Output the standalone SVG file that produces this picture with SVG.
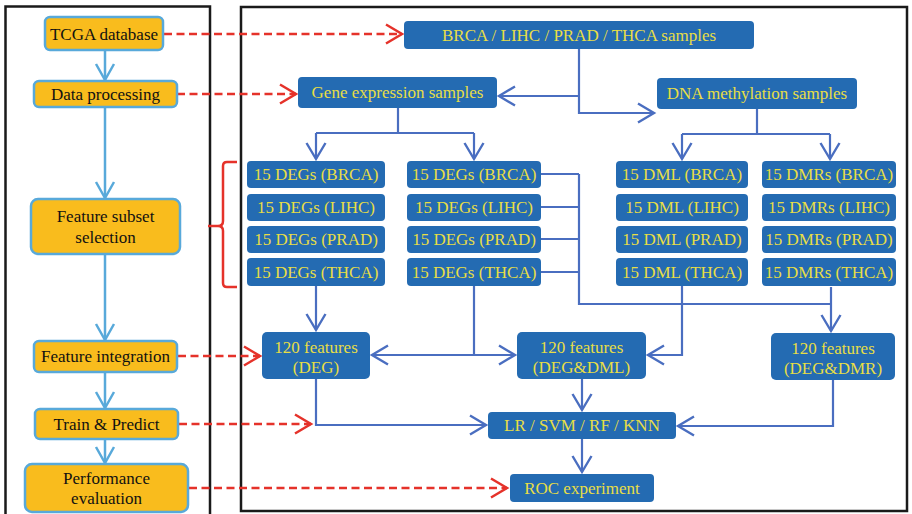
<svg xmlns="http://www.w3.org/2000/svg" width="912" height="514" viewBox="0 0 912 514">
  <style>
    .panel { fill: none; stroke: #1a1a1a; stroke-width: 2.5; }
    .step rect { fill: #F9BC1D; stroke: #58A9DA; stroke-width: 2.5; }
    .step text { font-family: "Liberation Serif", "Times New Roman", serif; font-size: 17px; fill: #111; text-anchor: middle; }
    .box rect { fill: #246BB2; }
    .box text { font-family: "Liberation Serif", "Times New Roman", serif; font-size: 17px; fill: #E8DE45; text-anchor: middle; }
    .flow { fill: none; stroke: #4A6EC0; stroke-width: 2.2; }
    .side { fill: none; stroke: #58A9DA; stroke-width: 2.5; }
    .link { fill: none; stroke: #E5322A; stroke-width: 2.5; stroke-dasharray: 8 4.5; }
    .brace { fill: none; stroke: #E5322A; stroke-width: 2.5; }
  </style>
  <defs>
    <marker id="hFlow" markerUnits="userSpaceOnUse" orient="auto" refX="0" refY="0" overflow="visible">
      <path d="M-16,-9.5 L0,0 L-16,9.5" fill="none" stroke="#4A6EC0" stroke-width="2.4"/>
    </marker>
    <marker id="hSide" markerUnits="userSpaceOnUse" orient="auto" refX="0" refY="0" overflow="visible">
      <path d="M-16,-9 L0,0 L-16,9" fill="none" stroke="#58A9DA" stroke-width="2.5"/>
    </marker>
    <marker id="hLink" markerUnits="userSpaceOnUse" orient="auto" refX="0" refY="0" overflow="visible">
      <path d="M-16,-9.5 L0,0 L-16,9.5" fill="none" stroke="#E5322A" stroke-width="2.5"/>
    </marker>
  </defs>

  <rect width="912" height="514" fill="#ffffff"/>

  <!-- panel frames -->
  <rect class="panel" x="5.5" y="6.5" width="204.5" height="530"/>
  <rect class="panel" x="241" y="7" width="666" height="504"/>

  <!-- connectors -->
  <g id="connectors">
    <!-- left workflow -->
    <path class="side" d="M105,50 V80" marker-end="url(#hSide)"/>
    <path class="side" d="M105,107 V198" marker-end="url(#hSide)"/>
    <path class="side" d="M105,254 V340" marker-end="url(#hSide)"/>
    <path class="side" d="M105,372 V408" marker-end="url(#hSide)"/>
    <path class="side" d="M105,439 V463" marker-end="url(#hSide)"/>

    <!-- dashed step links -->
    <path class="link" d="M164,34 H402" marker-end="url(#hLink)"/>
    <path class="link" d="M177,94 H296" marker-end="url(#hLink)"/>
    <path class="link" d="M178,356 H260" marker-end="url(#hLink)"/>
    <path class="link" d="M179,424 H311" marker-end="url(#hLink)"/>
    <path class="link" d="M189,488 H507" marker-end="url(#hLink)"/>

    <!-- brace -->
    <path class="brace" d="M237,162 H227 Q223,162 223,166 V221 Q223,226 218,226 H208 M218,226 Q223,226 223,231 V283 Q223,287 227,287 H237"/>

    <!-- samples split -->
    <path class="flow" d="M579,49 V113 H654" marker-end="url(#hFlow)"/>
    <path class="flow" d="M579,96 H499" marker-end="url(#hFlow)"/>

    <!-- gene expression to DEG columns -->
    <path class="flow" d="M398,108 V133"/>
    <path class="flow" d="M316,133 H474"/>
    <path class="flow" d="M316,133 V159" marker-end="url(#hFlow)"/>
    <path class="flow" d="M474,133 V159" marker-end="url(#hFlow)"/>

    <!-- methylation to DML / DMR columns -->
    <path class="flow" d="M757,109 V134"/>
    <path class="flow" d="M682,134 H830"/>
    <path class="flow" d="M682,134 V159" marker-end="url(#hFlow)"/>
    <path class="flow" d="M830,134 V159" marker-end="url(#hFlow)"/>

    <!-- DEG column 1 to DEG features -->
    <path class="flow" d="M316,286 V330" marker-end="url(#hFlow)"/>

    <!-- DEG column 2 to DEG and DEG&DML features -->
    <path class="flow" d="M474,286 V355"/>
    <path class="flow" d="M474,355 H372" marker-end="url(#hFlow)"/>
    <path class="flow" d="M474,355 H515" marker-end="url(#hFlow)"/>

    <!-- DEG column 2 bus to DEG&DMR -->
    <path class="flow" d="M541,174 H579 M541,207 H579 M541,239 H579 M541,272 H579"/>
    <path class="flow" d="M579,174 V304 H831"/>
    <path class="flow" d="M831,287 V331" marker-end="url(#hFlow)"/>

    <!-- DML to DEG&DML -->
    <path class="flow" d="M682,286 V355 H648" marker-end="url(#hFlow)"/>

    <!-- features to classifiers -->
    <path class="flow" d="M316,379 V425 H486" marker-end="url(#hFlow)"/>
    <path class="flow" d="M582,379 V410" marker-end="url(#hFlow)"/>
    <path class="flow" d="M833,380 V426 H678" marker-end="url(#hFlow)"/>

    <!-- classifiers to ROC -->
    <path class="flow" d="M582,439 V472" marker-end="url(#hFlow)"/>
  </g>

  <!-- workflow steps -->
  <g id="step-tcga" class="step">
    <rect x="45" y="17" width="118" height="33" rx="5"/>
    <text x="104" y="40">TCGA database</text>
  </g>
  <g id="step-processing" class="step">
    <rect x="34" y="81" width="143" height="26" rx="5"/>
    <text x="105.5" y="100">Data processing</text>
  </g>
  <g id="step-selection" class="step">
    <rect x="31" y="199" width="149" height="55" rx="7"/>
    <text x="105.5" y="222">Feature subset</text>
    <text x="105.5" y="243">selection</text>
  </g>
  <g id="step-integration" class="step">
    <rect x="34" y="341" width="143" height="31" rx="5"/>
    <text x="105.5" y="362">Feature integration</text>
  </g>
  <g id="step-train" class="step">
    <rect x="35" y="409" width="143" height="30" rx="5"/>
    <text x="106.5" y="430">Train &amp; Predict</text>
  </g>
  <g id="step-evaluation" class="step">
    <rect x="25" y="464" width="163" height="48" rx="7"/>
    <text x="106.5" y="484">Performance</text>
    <text x="106.5" y="504">evaluation</text>
  </g>

  <!-- data nodes -->
  <g id="samples" class="box">
    <rect x="404" y="21" width="350" height="28" rx="4"/>
    <text x="579" y="40.5">BRCA / LIHC / PRAD / THCA samples</text>
  </g>
  <g id="gene-expression" class="box">
    <rect x="298" y="77" width="199" height="31" rx="4"/>
    <text x="397.5" y="98">Gene expression samples</text>
  </g>
  <g id="dna-methylation" class="box">
    <rect x="657" y="78" width="200" height="31" rx="4"/>
    <text x="757" y="99">DNA methylation samples</text>
  </g>

  <g id="deg-a-brca" class="box"><rect x="247" y="161" width="138" height="27" rx="4"/><text x="316" y="180">15 DEGs (BRCA)</text></g>
  <g id="deg-a-lihc" class="box"><rect x="247" y="194" width="138" height="27" rx="4"/><text x="316" y="213">15 DEGs (LIHC)</text></g>
  <g id="deg-a-prad" class="box"><rect x="247" y="226" width="138" height="27" rx="4"/><text x="316" y="245">15 DEGs (PRAD)</text></g>
  <g id="deg-a-thca" class="box"><rect x="247" y="258" width="138" height="28" rx="4"/><text x="316" y="277.5">15 DEGs (THCA)</text></g>

  <g id="deg-b-brca" class="box"><rect x="407" y="161" width="134" height="27" rx="4"/><text x="474" y="180">15 DEGs (BRCA)</text></g>
  <g id="deg-b-lihc" class="box"><rect x="407" y="194" width="134" height="27" rx="4"/><text x="474" y="213">15 DEGs (LIHC)</text></g>
  <g id="deg-b-prad" class="box"><rect x="407" y="226" width="134" height="27" rx="4"/><text x="474" y="245">15 DEGs (PRAD)</text></g>
  <g id="deg-b-thca" class="box"><rect x="407" y="258" width="134" height="28" rx="4"/><text x="474" y="277.5">15 DEGs (THCA)</text></g>

  <g id="dml-brca" class="box"><rect x="616" y="161" width="132" height="27" rx="4"/><text x="682" y="180">15 DML (BRCA)</text></g>
  <g id="dml-lihc" class="box"><rect x="616" y="194" width="132" height="27" rx="4"/><text x="682" y="213">15 DML (LIHC)</text></g>
  <g id="dml-prad" class="box"><rect x="616" y="226" width="132" height="27" rx="4"/><text x="682" y="245">15 DML (PRAD)</text></g>
  <g id="dml-thca" class="box"><rect x="616" y="258" width="132" height="28" rx="4"/><text x="682" y="277.5">15 DML (THCA)</text></g>

  <g id="dmr-brca" class="box"><rect x="762" y="161" width="134" height="27" rx="4"/><text x="829" y="180">15 DMRs (BRCA)</text></g>
  <g id="dmr-lihc" class="box"><rect x="762" y="194" width="134" height="27" rx="4"/><text x="829" y="213">15 DMRs (LIHC)</text></g>
  <g id="dmr-prad" class="box"><rect x="762" y="226" width="134" height="27" rx="4"/><text x="829" y="245">15 DMRs (PRAD)</text></g>
  <g id="dmr-thca" class="box"><rect x="762" y="258" width="134" height="28" rx="4"/><text x="829" y="277.5">15 DMRs (THCA)</text></g>

  <g id="features-deg" class="box">
    <rect x="262" y="332" width="108" height="47" rx="5"/>
    <text x="316" y="353">120 features</text>
    <text x="316" y="373">(DEG)</text>
  </g>
  <g id="features-deg-dml" class="box">
    <rect x="517" y="332" width="129" height="47" rx="5"/>
    <text x="581.5" y="353">120 features</text>
    <text x="581.5" y="373">(DEG&amp;DML)</text>
  </g>
  <g id="features-deg-dmr" class="box">
    <rect x="771" y="333" width="124" height="47" rx="5"/>
    <text x="833" y="354">120 features</text>
    <text x="833" y="374">(DEG&amp;DMR)</text>
  </g>

  <g id="classifiers" class="box">
    <rect x="488" y="412" width="188" height="27" rx="4"/>
    <text x="582" y="431">LR / SVM / RF / KNN</text>
  </g>
  <g id="roc" class="box">
    <rect x="510" y="474" width="144" height="28" rx="4"/>
    <text x="582" y="494">ROC experiment</text>
  </g>
</svg>
